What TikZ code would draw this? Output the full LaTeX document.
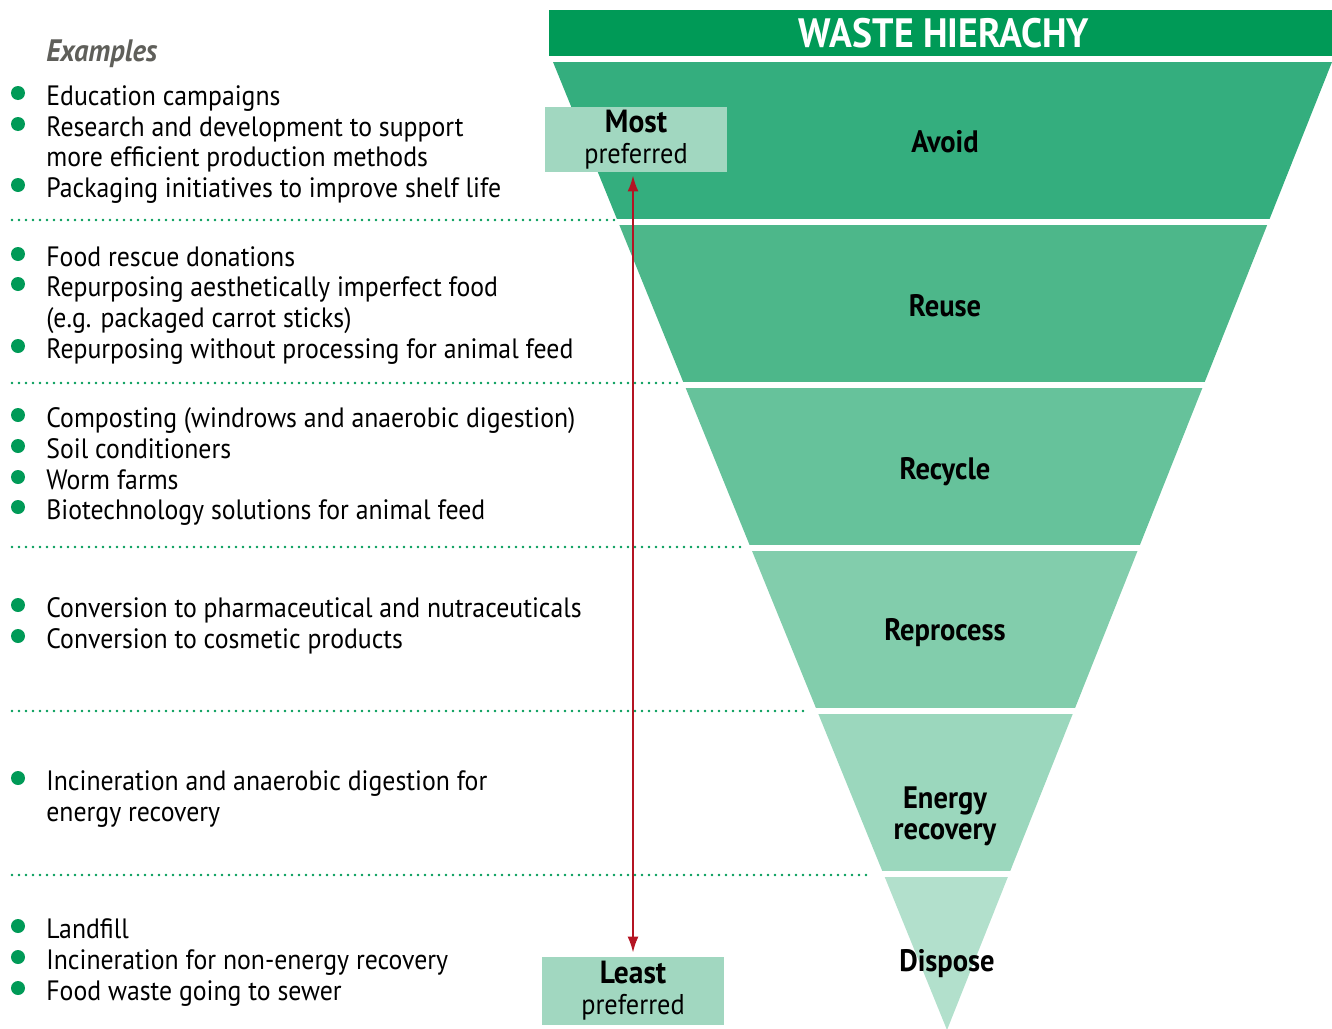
\documentclass[tikz,border=0pt]{standalone}
\usepackage{fontspec}
\setmainfont{PT Sans}[FakeStretch=0.92]
\usepackage{tikz}
\usetikzlibrary{arrows.meta,positioning,calc}

\definecolor{hdrgreen}{RGB}{0,154,87}
\definecolor{avoidc}{RGB}{52,174,126}
\definecolor{reusec}{RGB}{77,183,138}
\definecolor{recyclec}{RGB}{102,194,155}
\definecolor{reprocc}{RGB}{130,205,172}
\definecolor{energyc}{RGB}{155,215,189}
\definecolor{disposec}{RGB}{178,224,204}
\definecolor{prefc}{RGB}{161,215,192}
\definecolor{arrred}{RGB}{180,20,35}
\definecolor{exgray}{RGB}{95,95,90}

\begin{document}
\begin{tikzpicture}[x=0.5pt,y=-0.5pt,
    bullet/.style={circle,fill=hdrgreen,minimum size=7pt,inner sep=0pt},
    item/.style={anchor=base west,inner sep=0pt,font=\fontsize{14}{15}\selectfont},
    band/.style={align=center,font=\fontsize{15.5}{15.5}\selectfont\bfseries},
    pref/.style={fill=prefc,minimum width=91pt,inner sep=0pt,align=center,
      font=\fontsize{14.3}{15.5}\selectfont},
    sep/.style={hdrgreen,line width=1.4pt,dash pattern=on 0pt off 3.5pt,line cap=round}]
    \useasboundingbox (0,0) rectangle (1332,1028);

    % --- header ---
    \fill[hdrgreen] (549,10) rectangle (1332,56);
    \node[text=white,inner sep=0pt,font=\fontsize{20.5}{20}\selectfont\bfseries] (title) at (944,33) {WASTE HIERACHY};

    % --- inverted triangle, cut into bands ---
    \begin{scope}
      \clip (553,62) -- (1332,62) -- (947,1030) -- cycle;
      \fill[avoidc] (540,62) rectangle (1332,219);
      \fill[reusec] (540,225) rectangle (1332,382);
      \fill[recyclec] (540,388) rectangle (1332,545);
      \fill[reprocc] (540,551) rectangle (1332,708);
      \fill[energyc] (540,714) rectangle (1332,871);
      \fill[disposec] (540,877) rectangle (1332,1030);
    \end{scope}
    \node[band] (avoid) at (945,142) {Avoid};
    \node[band] (reuse) at (945,306) {Reuse};
    \node[band] (recycle) at (945,472) {Recycle};
    \node[band] (reproc) at (945,633) {Reprocess};
    \node[band] (energy) at (945,816) {Energy\\recovery};
    \node[band] (dispose) at (947,964) {Dispose};

    % --- most / least preferred ---
    \node[pref,minimum height=32.5pt] (most) at (636,139.5)
      {{\fontsize{16}{15.5}\selectfont\bfseries Most}\\preferred};
    \node[pref,minimum height=34pt] (least) at (633,991)
      {{\fontsize{16}{15.5}\selectfont\bfseries Least}\\preferred};
    \draw[arrred,line width=1pt,{Latex[length=8pt,width=5.5pt]}-{Latex[length=8pt,width=5.5pt]},
      shorten <=1.5pt,shorten >=2pt] (most.south -| least.north) -- (least.north);

    % --- separators ---
    \draw[sep] (12,220) -- (617,220);
    \draw[sep] (12,383) -- (678,383);
    \draw[sep] (12,547) -- (741,547);
    \draw[sep] (12,711) -- (807,711);
    \draw[sep] (12,875) -- (872,875);

    % --- examples ---
    \node[anchor=base west,inner sep=0pt,text=exgray,
      font=\fontsize{15.5}{15}\selectfont\bfseries\itshape] (examples) at (46,61) {Examples};

    \node[bullet] (b1) at (18,93) {};
    \node[item] (t1) at (46,105) {Education campaigns};
    \node[bullet] (b2) at (18,124) {};
    \node[item] (t2) at (46,136) {Research and development to support};
    \node[item] (t2b) at (46,166) {more efficient production methods};
    \node[bullet] (b3) at (18,185) {};
    \node[item] (t3) at (46,197) {Packaging initiatives to improve shelf life};

    \node[bullet] (b4) at (18,254) {};
    \node[item] (t4) at (46,266) {Food rescue donations};
    \node[bullet] (b5) at (18,284) {};
    \node[item] (t5) at (46,296) {Repurposing aesthetically imperfect food};
    \node[item] (t5b) at (46,327) {(e.g. packaged carrot sticks)};
    \node[bullet] (b6) at (18,346) {};
    \node[item] (t6) at (46,358) {Repurposing without processing for animal feed};

    \node[bullet] (b7) at (18,415) {};
    \node[item] (t7) at (46,427) {Composting (windrows and anaerobic digestion)};
    \node[bullet] (b8) at (18,446) {};
    \node[item] (t8) at (46,458) {Soil conditioners};
    \node[bullet] (b9) at (18,477) {};
    \node[item] (t9) at (46,489) {Worm farms};
    \node[bullet] (b10) at (18,507) {};
    \node[item] (t10) at (46,519) {Biotechnology solutions for animal feed};

    \node[bullet] (b11) at (18,605) {};
    \node[item] (t11) at (46,617) {Conversion to pharmaceutical and nutraceuticals};
    \node[bullet] (b12) at (18,636) {};
    \node[item] (t12) at (46,648) {Conversion to cosmetic products};

    \node[bullet] (b13) at (18,778) {};
    \node[item] (t13) at (46,790) {Incineration and anaerobic digestion for};
    \node[item] (t13b) at (46,821) {energy recovery};

    \node[bullet] (b14) at (18,926) {};
    \node[item] (t14) at (46,938) {Landfill};
    \node[bullet] (b15) at (18,957) {};
    \node[item] (t15) at (46,969) {Incineration for non-energy recovery};
    \node[bullet] (b16) at (18,988) {};
    \node[item] (t16) at (46,1000) {Food waste going to sewer};
  \end{tikzpicture}
\end{document}
